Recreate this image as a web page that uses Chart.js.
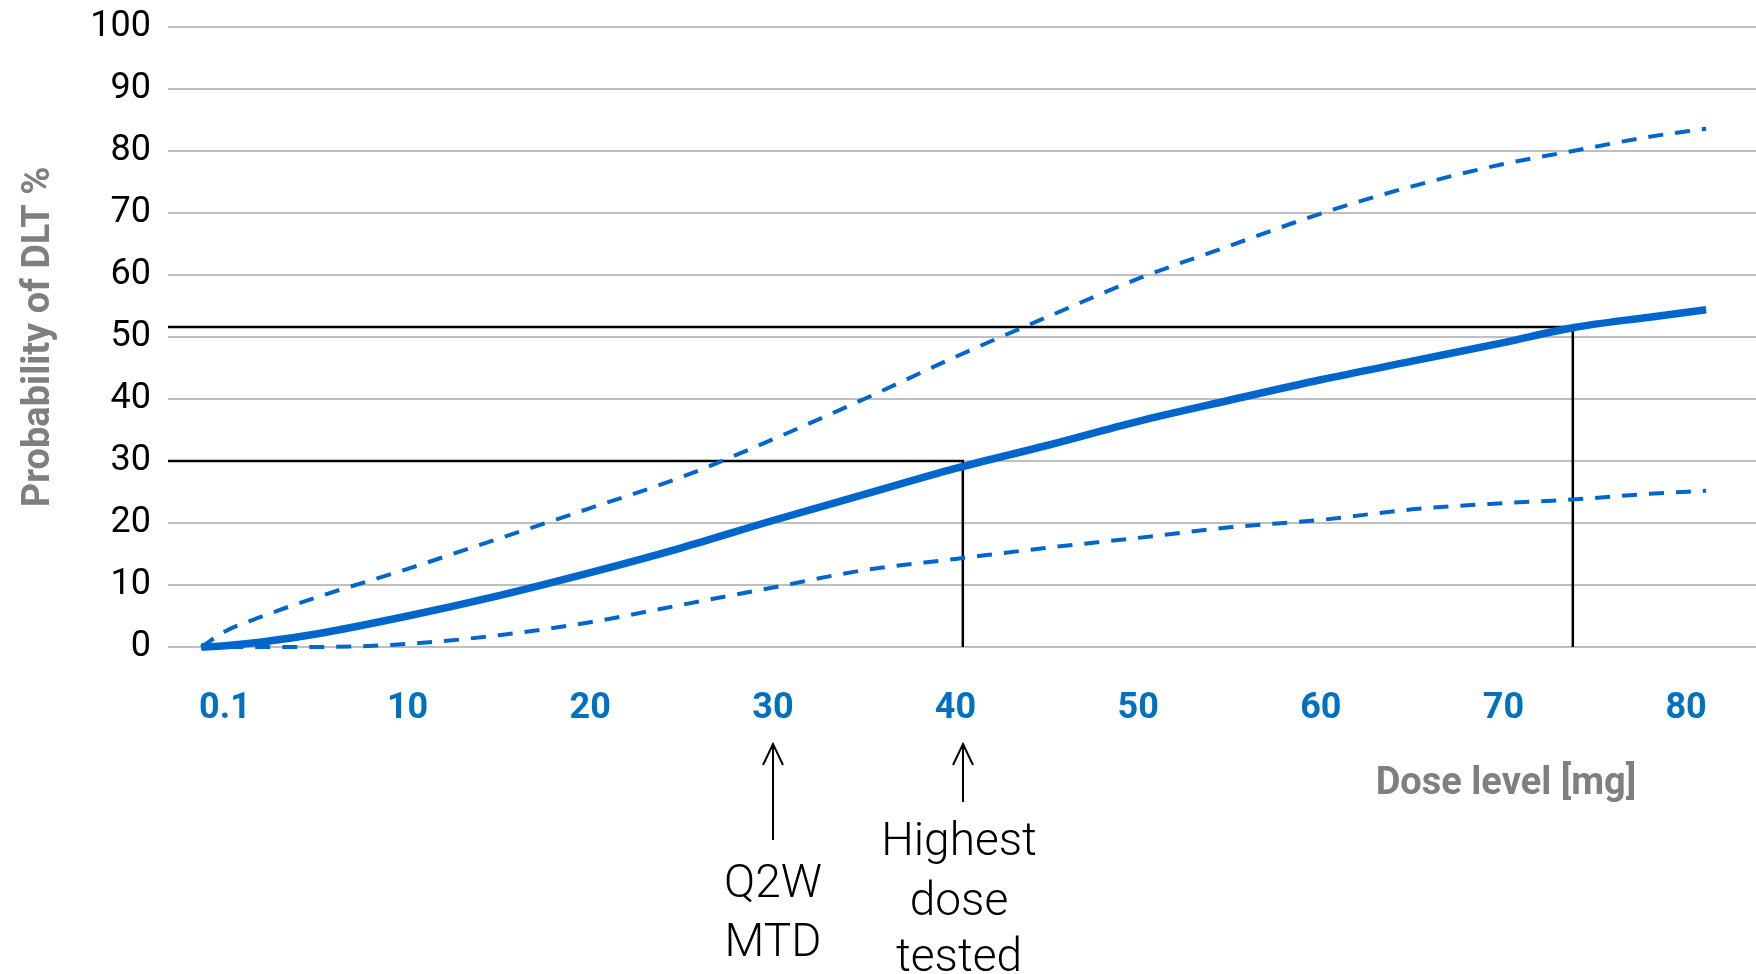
<!DOCTYPE html>
<html><head><meta charset="utf-8">
<script src="https://cdn.jsdelivr.net/npm/chart.js@4.4.1/dist/chart.umd.min.js"></script>
<style>html,body{margin:0;padding:0;background:#fff;overflow:hidden}#wrap{position:relative;width:1756px;height:974px}</style>
</head><body><div id="wrap"><canvas id="c" width="1756" height="974"></canvas></div>
<script>
// ---- data (x in axis units, y in % DLT) ----
const doses     = [-1.3, 0, 2, 5, 10, 15, 20, 25, 30, 35, 40, 45, 50, 55, 60, 65, 70, 73.8, 78, 81.1];
const medianDLT = [0, 0.2, 0.8, 2.1, 5.0, 8.3, 12.0, 16.0, 20.4, 24.6, 28.8, 32.5, 36.4, 39.8, 43.1, 46.1, 49.1, 51.5, 53.2, 54.4];
const upperDLT  = [0, 2.5, 4.9, 8.0, 12.6, 17.5, 22.4, 27.4, 33.5, 40.0, 46.8, 53.2, 59.4, 64.7, 69.9, 74.3, 77.9, 80.0, 82.3, 83.6];
const lowerDLT  = [0, 0, 0, 0, 0.5, 1.9, 4.0, 6.8, 9.6, 12.4, 14.2, 16.0, 17.6, 19.3, 20.5, 22.2, 23.2, 23.8, 24.7, 25.2];
const xTickValues = [0, 10, 20, 30, 40, 50, 60, 70, 80];
const xTickLabels = ['0.1', '10', '20', '30', '40', '50', '60', '70', '80'];
const refDoses  = [40.4, 73.8];
const refLevels = [30, 51.6];
const annotDoses = [30, 40.4];
const annotLines = [['Q2W', 'MTD'], ['Highest', 'dose', 'tested']];
const yTitle = 'Probability of DLT %';
const xTitle = 'Dose level [mg]';

const X_MIN = -3.12, X_MAX = 83.83;
const BLUE = '#0066CC';
const FONT = 'Roboto, "Open Sans", sans-serif';

const pts = ys => doses.map((d, i) => ({x: d, y: ys[i]}));
const refPts = i => [{x: X_MIN, y: refLevels[i]}, {x: refDoses[i], y: refLevels[i]}, {x: refDoses[i], y: 0}];

const annot = {
  id: 'annot',
  afterDraw(chart) {
    const ctx = chart.ctx, xs = chart.scales.x;
    ctx.save();
    const tails = [840, 802];
    const baselines = [[897, 956], [855, 915, 971]];
    const textShift = [0, -4];
    annotDoses.forEach((d, i) => {
      const px = Math.round(xs.getPixelForValue(d));
      ctx.strokeStyle = '#000'; ctx.lineWidth = 2; ctx.lineCap = 'butt';
      ctx.beginPath(); ctx.moveTo(px, tails[i]); ctx.lineTo(px, 744); ctx.stroke();
      ctx.beginPath(); ctx.moveTo(px - 10, 765); ctx.lineTo(px, 744); ctx.lineTo(px + 10, 765); ctx.stroke();
      ctx.fillStyle = '#000';
      ctx.font = '300 46px ' + FONT;
      ctx.textAlign = 'center'; ctx.textBaseline = 'alphabetic';
      annotLines[i].forEach((t, j) => ctx.fillText(t, px + textShift[i], baselines[i][j]));
    });
    ctx.fillStyle = '#7F7F7F';
    ctx.font = 'bold 38px ' + FONT;
    ctx.textAlign = 'center'; ctx.textBaseline = 'alphabetic';
    ctx.fillText(xTitle, 1506, 794);
    ctx.restore();
  }
};

new Chart(document.getElementById('c'), {
  type: 'line',
  data: {
    datasets: [
      {data: pts(medianDLT), borderColor: BLUE, borderWidth: 7.5, pointRadius: 0, cubicInterpolationMode: 'monotone', clip: false, borderCapStyle: 'butt'},
      {data: pts(upperDLT), borderColor: BLUE, borderWidth: 4, borderDash: [15, 12], pointRadius: 0, cubicInterpolationMode: 'monotone', clip: false},
      {data: pts(lowerDLT), borderColor: BLUE, borderWidth: 4, borderDash: [15, 12], pointRadius: 0, cubicInterpolationMode: 'monotone', clip: false},
      {data: refPts(0), borderColor: '#000', borderWidth: 2.5, pointRadius: 0, tension: 0, clip: false},
      {data: refPts(1), borderColor: '#000', borderWidth: 2.5, pointRadius: 0, tension: 0, clip: false}
    ]
  },
  options: {
    responsive: false, animation: false,
    layout: {padding: {top: 27, left: 0, right: 0, bottom: 0}},
    plugins: {legend: {display: false}, tooltip: {enabled: false}, title: {display: false}},
    scales: {
      x: {
        type: 'linear', min: X_MIN, max: X_MAX,
        grid: {display: false}, border: {display: false},
        afterBuildTicks: s => { s.ticks = xTickValues.map(v => ({value: v})); },
        afterFit: s => { s.height = 327; s.paddingLeft = 0; s.paddingRight = 0; },
        ticks: {
          color: '#0070C0', padding: 32, maxRotation: 0, autoSkip: false,
          font: {family: FONT, size: 36, weight: 'bold'},
          callback: v => { const i = xTickValues.indexOf(v); return i >= 0 ? xTickLabels[i] : ''; }
        }
      },
      y: {
        min: 0, max: 100,
        afterFit: s => { s.width = 168; s.paddingTop = 0; s.paddingBottom = 0; },
        grid: {color: '#BFBFBF', lineWidth: 2, drawTicks: false},
        border: {display: false},
        ticks: {stepSize: 10, color: '#000', padding: 17, font: {family: FONT, size: 36, weight: 400}},
        title: {display: true, text: yTitle, color: '#7F7F7F', font: {family: FONT, size: 38, weight: 'bold'}, padding: {top: 17, bottom: 0}}
      }
    }
  },
  plugins: [annot]
});
</script></body></html>
